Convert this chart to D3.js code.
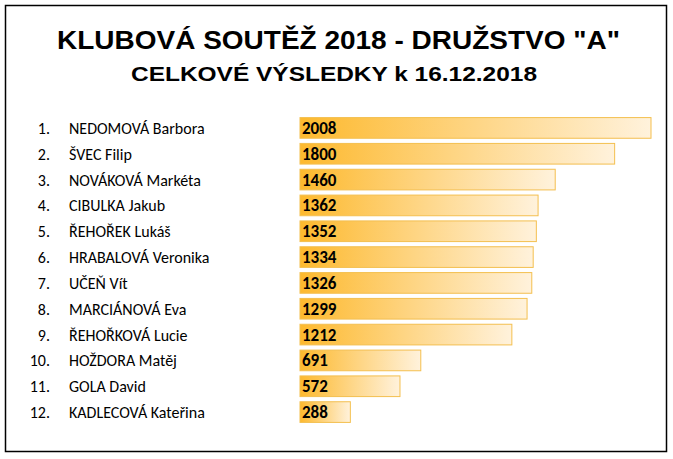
<!DOCTYPE html>
<html><head><meta charset="utf-8">
<script src="https://cdn.jsdelivr.net/npm/d3@7"></script>
<style>body{margin:0;background:#fff}</style>
</head><body><svg width="673" height="459"></svg>
<script>
const ranks = ['1.','2.','3.','4.','5.','6.','7.','8.','9.','10.','11.','12.'];
const names = ['NEDOMOVÁ Barbora','ŠVEC Filip','NOVÁKOVÁ Markéta','CIBULKA Jakub','ŘEHOŘEK Lukáš','HRABALOVÁ Veronika','UČEŇ Vít','MARCIÁNOVÁ Eva','ŘEHOŘKOVÁ Lucie','HOŽDORA Matěj','GOLA David','KADLECOVÁ Kateřina'];
const points = [2008,1800,1460,1362,1352,1334,1326,1299,1212,691,572,288];

const svg = d3.select('svg');
const font = 'Calibri, Carlito, Lato, sans-serif';

svg.append('rect').attr('x',5.5).attr('y',5.5).attr('width',661).attr('height',446)
  .attr('fill','none').attr('stroke','#000').attr('stroke-width',1.5);

const grad = svg.append('defs').append('linearGradient').attr('id','g');
grad.append('stop').attr('offset','0%').attr('stop-color','#fdb92e');
grad.append('stop').attr('offset','100%').attr('stop-color','#fff2dc');

svg.append('text').attr('x',57).attr('y',49)
  .attr('font-family','"Liberation Sans", Arial, sans-serif').attr('font-weight','bold').attr('font-size',25)
  .attr('textLength',563).attr('lengthAdjust','spacingAndGlyphs')
  .text('KLUBOVÁ SOUTĚŽ 2018 - DRUŽSTVO "A"');
svg.append('text').attr('x',131).attr('y',81)
  .attr('font-family','"Liberation Sans", Arial, sans-serif').attr('font-weight','bold').attr('font-size',20)
  .attr('textLength',406).attr('lengthAdjust','spacingAndGlyphs')
  .text('CELKOVÉ VÝSLEDKY k 16.12.2018');

const x = d3.scaleLinear().domain([0,2008]).range([300,651]);
const y = d3.scaleBand().domain(d3.range(names.length)).range([115,425]).paddingInner(0.2).paddingOuter(0.1);

const row = svg.selectAll('g.row').data(points).join('g').attr('class','row');
row.append('rect').attr('x',x(0)).attr('y',(d,i)=>y(i)).attr('width',d=>x(d)-x(0)).attr('height',y.bandwidth())
  .attr('fill','url(#g)').attr('stroke','#f4bf4f').attr('stroke-width',1);
row.append('text').attr('x',x(0)+2).attr('y',(d,i)=>y(i)+y.bandwidth()/2+6)
  .attr('font-family',font).attr('font-weight','bold').attr('font-size',17).text(d=>d);
row.append('text').attr('x',50).attr('y',(d,i)=>y(i)+y.bandwidth()/2+6).attr('text-anchor','end')
  .attr('font-family',font).attr('font-size',16).text((d,i)=>ranks[i]);
row.append('text').attr('x',69).attr('y',(d,i)=>y(i)+y.bandwidth()/2+6)
  .attr('font-family',font).attr('font-size',16).text((d,i)=>names[i]);
</script></body></html>
